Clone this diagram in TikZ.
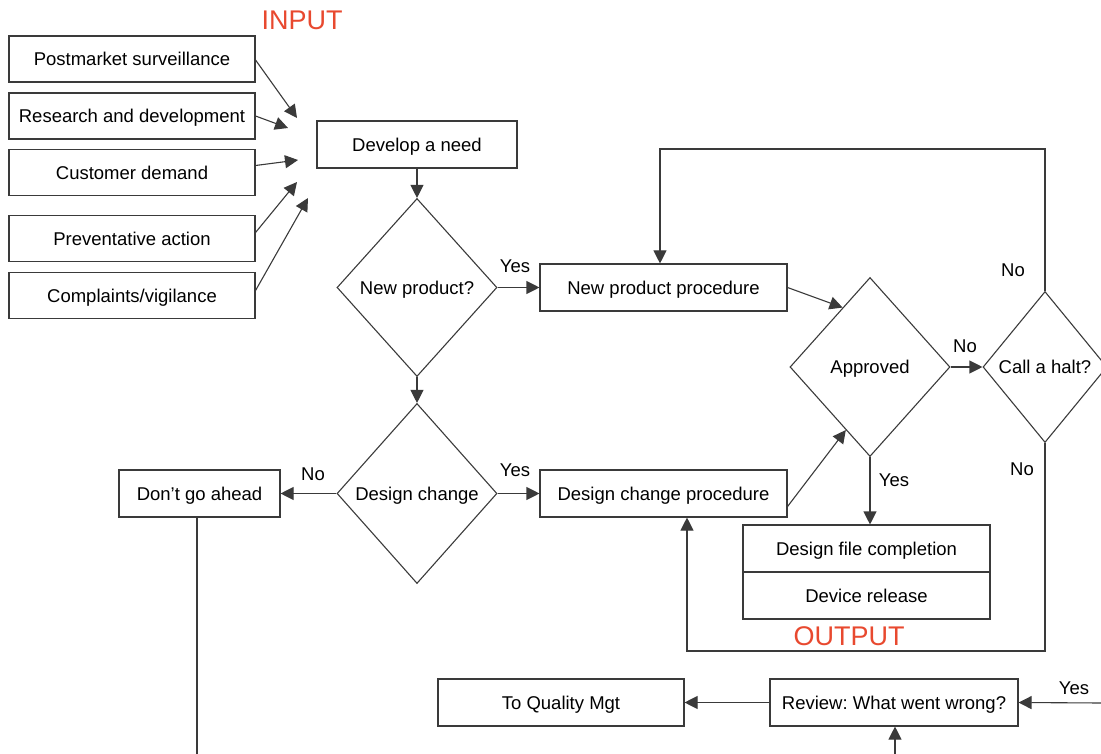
\documentclass[tikz,border=0pt]{standalone}
\usepackage{fontspec}
\setmainfont{Liberation Sans}
\usetikzlibrary{arrows.meta,shapes.geometric,calc}
\definecolor{linegray}{HTML}{3A3A3A}
\definecolor{tagred}{HTML}{E8492F}
\frenchspacing
\begin{document}
\begin{tikzpicture}[x=1pt,y=-1pt,
  every node/.style={font=\fontsize{18.5}{22}\selectfont, text=black, text height=13.3pt, text depth=0pt},
  box/.style={draw=linegray, line width=1.1pt, minimum height=47pt, inner sep=0pt},
  inbox/.style={box, minimum width=246pt, minimum height=46pt},
  widebox/.style={box, minimum width=247pt},
  decision/.style={draw=linegray, line width=1.1pt, shape=diamond, inner sep=0pt},
  link/.style={draw=linegray, line width=1.1pt},
  arr/.style={link, -{Triangle[length=13pt,width=13pt]}},
  tag/.style={inner sep=0pt},
  bigtag/.style={inner sep=0pt, text=tagred, font=\fontsize{27}{30}\selectfont, text height=19.4pt}
]
\useasboundingbox (0,0) rectangle (1101,754);
\clip (0,0) rectangle (1101,754);

% input sources
\node[bigtag] (input) at (302,20) {INPUT};
\node[inbox] (pms)  at (132,59)    {Postmarket surveillance};
\node[inbox] (rnd)  at (132,116)   {Research and development};
\node[inbox] (cus)  at (132,172.5) {Customer demand};
\node[inbox] (prev) at (132,238.5) {Preventative action};
\node[inbox] (comp) at (132,295.5) {Complaints/vigilance};

\coordinate (inA) at (297,118);
\coordinate (inB) at (288,128);
\coordinate (inC) at (298,160);
\coordinate (inD) at (297,182);
\coordinate (inE) at (308,198);
\draw[arr] ([yshift=-1pt]pms.east) -- (inA);
\draw[arr] (rnd.east) -- (inB);
\draw[arr] ([yshift=7pt]cus.east) -- (inC);
\draw[arr] ([yshift=6pt]prev.east) -- (inD);
\draw[arr] ([yshift=5pt]comp.east) -- (inE);

% main flow
\node[box, minimum width=200pt] (need) at (417,144.5) {Develop a need};
\node[decision, minimum width=160pt, minimum height=178pt] (newq) at (417,287.5) {\makebox[0pt]{New product?}};
\node[decision, minimum width=160pt, minimum height=180pt] (dchg) at (417,493.5) {\makebox[0pt]{Design change}};
\node[widebox] (npp) at (663.5,287.5) {New product procedure};
\node[widebox] (dcp) at (663.5,493.5) {Design change procedure};
\node[box, minimum width=161pt] (dga) at (199.5,493.5) {Don’t go ahead};
\node[decision, minimum width=160pt, minimum height=179pt] (appr) at (870,367) {\makebox[0pt]{Approved}};
\node[decision, minimum width=124pt, minimum height=151pt] (halt) at (1045,367) {\makebox[0pt]{Call a halt?}};
\node[widebox] (dfc) at (866.5,548.5) {Design file completion};
\node[widebox] (dr)  at (866.5,595.5) {Device release};
\node[bigtag] (output) at (849,636) {OUTPUT};
\node[box, minimum width=248pt] (rev) at (894,702.5) {Review: What went wrong?};
\node[box, minimum width=246pt] (toq) at (561,702.5) {To Quality Mgt};

\draw[arr] (need.south) -- (newq.north);
\draw[arr] (newq.south) -- (dchg.north);
\draw[arr] (newq.east) -- (npp.west);
\draw[arr] (dchg.east) -- (dcp.west);
\draw[arr] (dchg.west) -- (dga.east);
\draw[arr] (npp.east) -- ($(appr.west)!0.66!(appr.north)$);
\draw[arr] ([yshift=-13pt]dcp.east) -- ($(appr.west)!0.7!(appr.south)$);
\draw[arr] (appr.east) -- (halt.west);
\draw[arr] (appr.south) -- (dfc.north -| appr.south);

% loops back from the halt decision
\coordinate (loopA) at (660,149);
\coordinate (loopB) at (687,651);
\draw[arr] (halt.north) |- (loopA) -- (npp.north -| loopA);
\draw[arr] (halt.south) |- (loopB) -- (dcp.south -| loopB);

% review branch
\coordinate (dgaend) at (197,754);
\coordinate (revin) at (1101,703);
\coordinate (revbot) at (895,754);
\draw[link] (dga.south -| dgaend) -- (dgaend);
\draw[arr] (revin) -- (rev.east);
\draw[arr] (revbot) -- (rev.south -| revbot);
\draw[arr] (rev.west) -- (toq.east);

% branch labels
\node[tag] (yesA) at (515,266) {Yes};
\node[tag] (yesB) at (515,470) {Yes};
\node[tag] (noA)  at (313,474) {No};
\node[tag] (noB)  at (965,346) {No};
\node[tag] (noC)  at (1013,270) {No};
\node[tag] (noD)  at (1022,469) {No};
\node[tag] (yesC) at (894,480) {Yes};
\node[tag] (yesD) at (1074,688) {Yes};
\end{tikzpicture}
\end{document}
